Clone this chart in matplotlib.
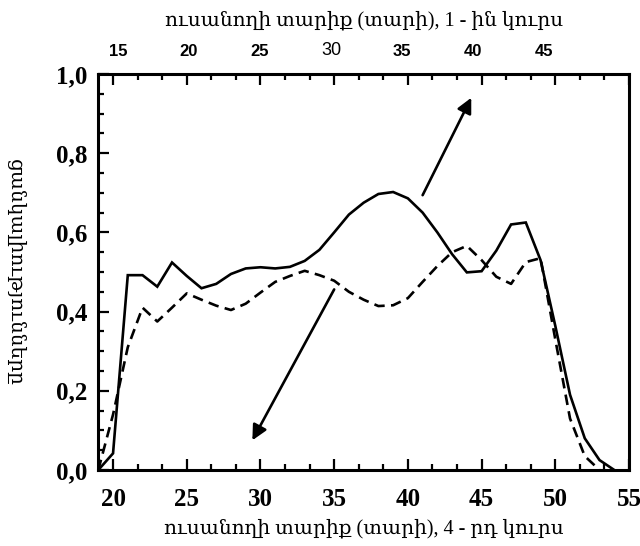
import numpy as np
import matplotlib
matplotlib.use("Agg")
import matplotlib.pyplot as plt
from matplotlib.ticker import MultipleLocator, FixedLocator

# ---- data ----
x_solid = [19, 20, 21, 22, 23, 24, 25, 26, 27, 28, 29, 30, 31, 32, 33, 34, 35, 36, 37, 38,
           39, 40, 41, 42, 43, 44, 45, 46, 47, 48, 49, 50, 51, 52, 53, 54]
y_solid = [0.0, 0.042, 0.492, 0.492, 0.463, 0.524, 0.49, 0.459, 0.47, 0.495, 0.509, 0.512,
           0.509, 0.513, 0.528, 0.556, 0.60, 0.645, 0.675, 0.697, 0.702, 0.686, 0.65, 0.60,
           0.545, 0.499, 0.502, 0.554, 0.620, 0.625, 0.53, 0.364, 0.19, 0.08, 0.025, 0.0]

x_dash = [19, 20, 21, 22, 23, 24, 25, 26, 27, 28, 29, 30, 31, 32, 33, 34, 35, 36, 37, 38,
          39, 40, 41, 42, 43, 44, 45, 46, 47, 48, 49, 50, 51, 52, 53]
y_dash = [0.0, 0.14, 0.31, 0.41, 0.375, 0.41, 0.446, 0.43, 0.415, 0.404, 0.42, 0.448,
          0.475, 0.49, 0.503, 0.492, 0.478, 0.45, 0.43, 0.414, 0.416, 0.434, 0.475, 0.515,
          0.55, 0.566, 0.53, 0.488, 0.47, 0.525, 0.535, 0.33, 0.13, 0.035, 0.0]

bottom_ticks = [20, 25, 30, 35, 40, 45, 50, 55]
top_ticks = [15, 20, 25, 30, 35, 40, 45]
y_ticks = [0.0, 0.2, 0.4, 0.6, 0.8, 1.0]
y_ticklabels = ["0,0", "0,2", "0,4", "0,6", "0,8", "1,0"]

xlabel = "ուսանողի տարիք (տարի), 4 - րդ կուրս"
toplabel = "ուսանողի տարիք (տարի), 1 - ին կուրս"
ylabel = "ցանկալիությունները"

arrow_up = ((41.0, 0.694), (44.3, 0.94))
arrow_down = ((35.0, 0.456), (29.45, 0.075))

serif = ["Liberation Serif", "DejaVu Serif"]

fig = plt.figure(figsize=(6.4, 5.46), dpi=100)
ax = fig.add_axes([98.3 / 640, 76 / 546, (629 - 98.3) / 640, (470 - 74) / 546])

ax.plot(x_solid, y_solid, color="black", lw=1.9, solid_joinstyle="miter")
ax.plot(x_dash, y_dash, color="black", lw=1.9, dashes=(4, 2.4))

for (tail, tip) in (arrow_up, arrow_down):
    ax.annotate("", xy=tip, xytext=tail,
                arrowprops=dict(arrowstyle="-|>,head_length=0.9,head_width=0.45",
                                color="black", lw=1.9, shrinkA=0, shrinkB=0))

ax.set_xlim(19, 55)
ax.set_ylim(0, 1.0)

ax.xaxis.set_major_locator(FixedLocator(bottom_ticks))
ax.xaxis.set_minor_locator(FixedLocator(list(np.arange(20, 55.01, 5 / 3))))
ax.yaxis.set_major_locator(FixedLocator(y_ticks))
ax.yaxis.set_minor_locator(MultipleLocator(0.05))
ax.set_yticklabels(y_ticklabels)
ax.set_xticklabels([str(t) for t in bottom_ticks])

ax.tick_params(axis="both", which="both", direction="in", width=1.6)
ax.tick_params(axis="both", which="major", length=8)
ax.tick_params(axis="both", which="minor", length=4)
ax.tick_params(axis="x", which="both", top=True)
ax.tick_params(axis="y", which="both", right=False)
ax.tick_params(axis="x", which="major", pad=13)
ax.tick_params(axis="y", which="major", pad=8)

for lab in ax.get_xticklabels() + ax.get_yticklabels():
    lab.set_fontfamily(serif)
    lab.set_fontweight("bold")
    lab.set_fontsize(18)

for sp in ax.spines.values():
    sp.set_linewidth(2.2)


def b2t(b):
    px = 98.3 + (np.asarray(b) - 19) * 14.76
    return 15 + (px - 118) / 14.23


def t2b(t):
    px = 118 + (np.asarray(t) - 15) * 14.23
    return 19 + (px - 98.3) / 14.76


sec = ax.secondary_xaxis("top", functions=(b2t, t2b))
sec.set_xticks(top_ticks)
sec.set_xticklabels([str(t) for t in top_ticks])
sec.tick_params(axis="x", length=0, pad=11)
sec.spines["top"].set_visible(False)
for lab in sec.get_xticklabels():
    lab.set_fontfamily(["Liberation Sans", "DejaVu Sans"])
    if lab.get_text() == "30":
        lab.set_fontweight("normal")
        lab.set_fontsize(13)
    else:
        lab.set_fontweight("bold")
        lab.set_fontsize(12)

sec.set_xlabel(toplabel, fontsize=14.5, family=serif, labelpad=12)
ax.set_xlabel(xlabel, fontsize=14.5, family=serif, labelpad=6)
ax.set_ylabel(ylabel, fontsize=14.5, family=serif, rotation=-90, va="center")
ax.yaxis.set_label_coords(-0.158, 0.5)

fig.savefig("out.png", dpi=100)
